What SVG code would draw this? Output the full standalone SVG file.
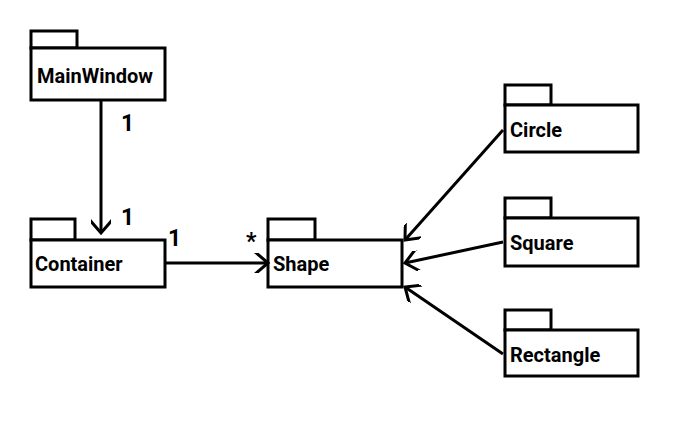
<svg xmlns="http://www.w3.org/2000/svg" width="686" height="437" viewBox="0 0 686 437">
<style>
.box{fill:#fff;stroke:#000;stroke-width:3}
.lbl{font-family:Roboto,"Liberation Sans",sans-serif;font-weight:bold;font-size:20px;fill:#000}
.mul{font-family:Roboto,"Liberation Sans",sans-serif;font-weight:bold;font-size:23px;fill:#000}
.edge{stroke:#000;stroke-width:3;fill:none}
</style>
<defs>
<marker id="open" markerWidth="20" markerHeight="20" refX="16" refY="10" orient="auto" markerUnits="userSpaceOnUse">
<path d="M2,-2 L16,10 L2,22" fill="none" stroke="#000" stroke-width="3"/>
</marker>
</defs>
<rect width="686" height="437" fill="#fff"/>
<g id="MainWindow">
<rect class="box" x="31" y="31" width="46" height="17"/>
<rect class="box" x="31" y="48" width="134" height="52"/>
<text class="lbl" x="37" y="83">MainWindow</text>
</g>
<g id="Container">
<rect class="box" x="31" y="219" width="44" height="21"/>
<rect class="box" x="31" y="240" width="134" height="47"/>
<text class="lbl" x="35" y="271">Container</text>
</g>
<g id="Shape">
<rect class="box" x="268" y="219" width="47" height="21"/>
<rect class="box" x="268" y="240" width="134" height="47"/>
<text class="lbl" x="273" y="271">Shape</text>
</g>
<g id="Circle">
<rect class="box" x="505" y="85" width="46" height="20"/>
<rect class="box" x="505" y="105" width="133" height="47"/>
<text class="lbl" x="510" y="137">Circle</text>
</g>
<g id="Square">
<rect class="box" x="505" y="198" width="46" height="20"/>
<rect class="box" x="505" y="218" width="133" height="48"/>
<text class="lbl" x="510" y="250">Square</text>
</g>
<g id="Rectangle">
<rect class="box" x="505" y="310" width="46" height="20"/>
<rect class="box" x="505" y="330" width="133" height="46"/>
<text class="lbl" x="510" y="362">Rectangle</text>
</g>
<g id="connectors">
<line class="edge" x1="101" y1="100" x2="101" y2="233" marker-end="url(#open)"/>
<line class="edge" x1="165" y1="263" x2="268" y2="263" marker-end="url(#open)"/>
<line class="edge" x1="503" y1="130" x2="405" y2="240" marker-end="url(#open)"/>
<line class="edge" x1="503" y1="242" x2="405" y2="263" marker-end="url(#open)"/>
<line class="edge" x1="503" y1="354" x2="405" y2="287" marker-end="url(#open)"/>
<text class="mul" x="121" y="131">1</text>
<text class="mul" x="121" y="225">1</text>
<text class="mul" x="168" y="246">1</text>
<text class="mul" x="246" y="249">*</text>
</g>
</svg>
